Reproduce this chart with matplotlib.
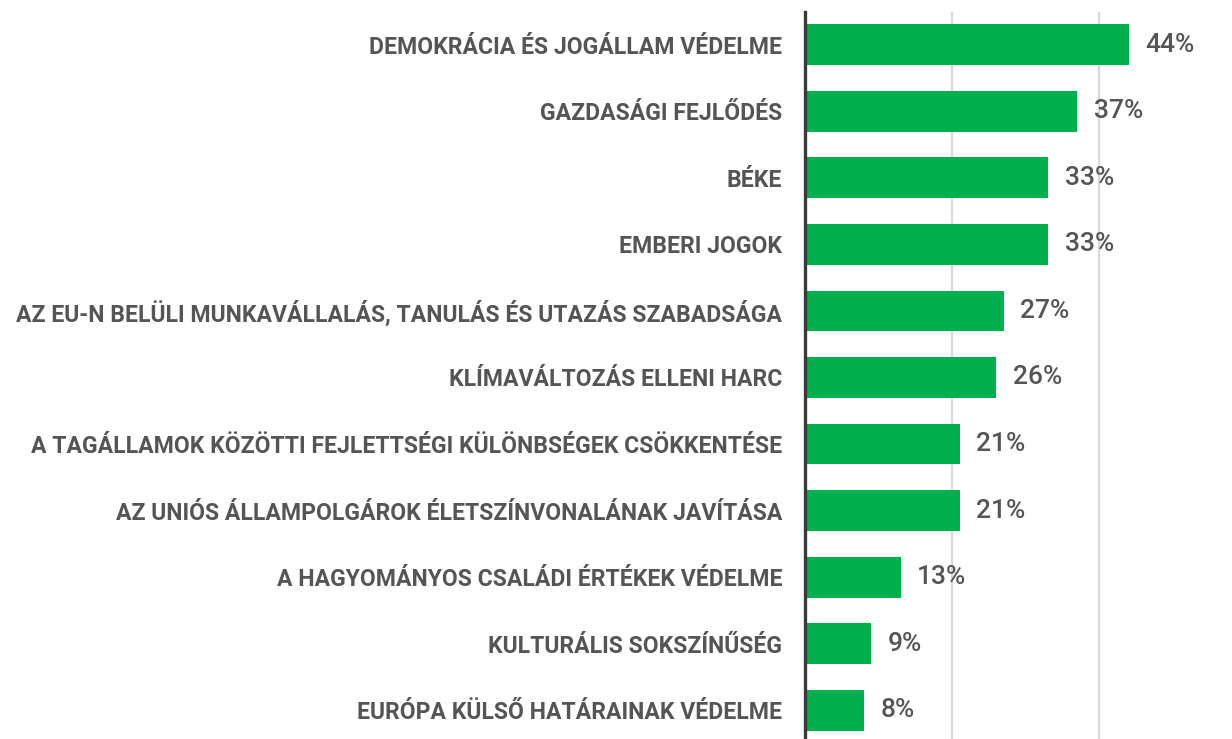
import matplotlib.pyplot as plt

labels = [
    "DEMOKRÁCIA ÉS JOGÁLLAM VÉDELME",
    "GAZDASÁGI FEJLŐDÉS",
    "BÉKE",
    "EMBERI JOGOK",
    "AZ EU-N BELÜLI MUNKAVÁLLALÁS, TANULÁS ÉS UTAZÁS SZABADSÁGA",
    "KLÍMAVÁLTOZÁS ELLENI HARC",
    "A TAGÁLLAMOK KÖZÖTTI FEJLETTSÉGI KÜLÖNBSÉGEK CSÖKKENTÉSE",
    "AZ UNIÓS ÁLLAMPOLGÁROK ÉLETSZÍNVONALÁNAK JAVÍTÁSA",
    "A HAGYOMÁNYOS CSALÁDI ÉRTÉKEK VÉDELME",
    "KULTURÁLIS SOKSZÍNŰSÉG",
    "EURÓPA KÜLSŐ HATÁRAINAK VÉDELME",
]
values = [44, 37, 33, 33, 27, 26, 21, 21, 13, 9, 8]
gridticks = [20, 40]

plt.rcParams['font.family'] = ['Roboto', 'DejaVu Sans']

W, H = 1232, 739
fig = plt.figure(figsize=(W / 100, H / 100), dpi=100)
ax = fig.add_axes([805 / W, 0, (W - 805) / W, (H - 12) / H])

y = range(len(values))
ax.barh(y, values, height=0.61, color='#00B04F', zorder=3)

ax.set_xlim(0, 58)
ax.set_ylim(10.43, -0.49)
ax.set_xticks(gridticks)
ax.xaxis.grid(True, color='#d9d9d9', linewidth=1.6, zorder=0)
ax.tick_params(axis='x', length=0, labelbottom=False)
ax.tick_params(axis='y', length=0, pad=16.5)
ax.set_yticks(list(y))
ax.set_yticklabels(labels, fontsize=16.6, fontweight='bold', color='#555555')

for s in ['top', 'right', 'bottom']:
    ax.spines[s].set_visible(False)
ax.spines['left'].set_color('#3a3a3a')
ax.spines['left'].set_linewidth(2.4)
ax.spines['left'].set_zorder(4)

for i, v in enumerate(values):
    ax.annotate(f"{v}%", (v, i), xytext=(12, 0), textcoords='offset points',
                va='center', ha='left', fontsize=19, fontweight='medium',
                color='#555555')

fig.savefig('out.png', dpi=100)
